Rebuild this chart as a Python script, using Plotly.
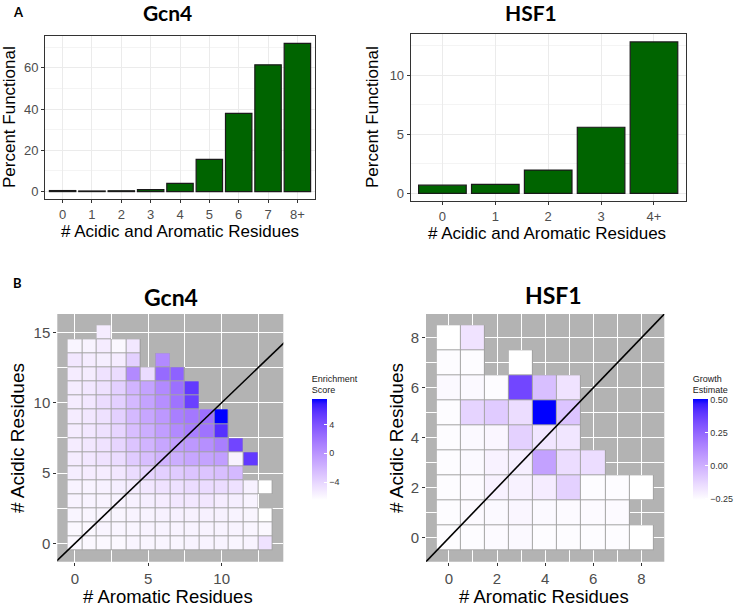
import plotly.graph_objects as go

# ---------------- data ----------------
gcn4_bar_cats = ["0", "1", "2", "3", "4", "5", "6", "7", "8+"]
gcn4_bar_pct = [0.5, 0.3, 0.4, 1.0, 4.0, 15.6, 38.0, 61.5, 71.9]

hsf1_bar_cats = ["0", "1", "2", "3", "4+"]
hsf1_bar_pct = [0.70, 0.76, 1.97, 5.59, 12.8]

# Gcn4 enrichment score: rows = # acidic (0..15), columns = # aromatic (0..13)
gcn4_aromatic = list(range(14))
gcn4_acidic = list(range(16))
N = None
gcn4_score = [
    [-6.1, -6.1, -6.1, -6.1, -5.9, -5.9, -5.9, -5.9, -5.8, -5.8, -5.8, -5.9, -5.8, -4.8],
    [-6.1, -6.1, -5.9, -5.9, -5.9, -5.8, -5.8, -5.8, -5.8, -5.8, -5.8, -5.8, -5.9, -6.1],
    [-5.9, -5.9, -5.9, -5.9, -5.8, -5.8, -5.7, -5.7, -5.7, -5.7, -5.7, -5.8, -5.9, -6.5],
    [-5.8, -5.8, -5.8, -5.8, -5.7, -5.5, -5.4, -5.1, -5.1, -5.1, -5.4, -5.5, -5.8, N],
    [-5.8, -5.8, -5.7, -5.5, -5.4, -5.1, -4.8, -4.7, -4.4, -4.4, -4.4, -4.7, -5.7, -6.5],
    [-5.5, -5.4, -5.4, -5.1, -4.4, -4.0, -3.7, -3.4, -3.0, -3.0, -2.6, -2.3, N, N],
    [-5.4, -5.1, -4.8, -4.4, -3.4, -2.6, -2.0, -1.6, -1.1, -0.9, -0.6, -5.8, 5.5, N],
    [-5.4, -5.1, -4.8, -4.0, -3.0, -2.0, -1.1, -0.6, -0.2, 0.3, 1.3, 4.8, N, N],
    [-5.4, -5.1, -4.7, -4.0, -2.6, -1.6, -0.6, 0.6, 1.3, 2.0, 5.9, N, N, N],
    [-5.4, -5.1, -4.7, -3.7, -2.3, -1.1, -0.2, 1.3, 1.7, 2.2, 7.6, N, N, N],
    [-5.4, -5.1, -4.4, -3.7, -2.3, -0.9, 0.3, 2.0, 5.1, N, N, N, N, N],
    [-5.4, -5.1, -4.7, -3.7, -2.0, -0.9, 0.6, 2.2, 5.5, N, N, N, N, N],
    [-5.4, -5.4, -4.8, -4.4, 0.6, -4.4, 2.6, 3.1, N, N, N, N, N, N],
    [-5.1, -5.4, -5.5, -5.4, -3.7, N, 0.6, N, N, N, N, N, N, N],
    [-5.9, -5.8, -5.4, -6.1, -5.1, N, N, N, N, N, N, N, N, N],
    [N, N, -5.4, N, N, N, N, N, N, N, N, N, N, N],
]

# HSF1 growth estimate: rows = # acidic (0..8), columns = # aromatic (0..8)
hsf1_aromatic = list(range(9))
hsf1_acidic = list(range(9))
hsf1_growth = [
    [-0.25, -0.25, -0.245, -0.24, -0.25, -0.25, -0.25, -0.25, -0.26],
    [-0.25, -0.245, -0.24, -0.23, -0.24, -0.245, -0.245, -0.245, N],
    [-0.25, -0.245, -0.22, -0.22, -0.20, -0.11, -0.25, -0.25, -0.26],
    [-0.25, -0.24, -0.22, -0.21, 0.05, -0.15, -0.15, N, N],
    [-0.25, -0.24, -0.23, -0.11, -0.18, -0.18, N, N, N],
    [-0.25, -0.12, -0.09, -0.15, 0.505, -0.07, N, N, N],
    [-0.24, -0.24, -0.25, 0.35, -0.05, -0.17, N, N, N],
    [-0.25, -0.25, N, -0.26, N, N, N, N, N],
    [-0.26, -0.17, N, N, N, N, N, N, N],
]

# ---------------- helpers ----------------
W, H = 736, 606


def px(x):
    return x / W


def py(y):
    return 1 - y / H


def _lin(c):
    c = c / 255.0
    return c / 12.92 if c <= 0.04045 else ((c + 0.055) / 1.055) ** 2.4


def _gam(c):
    c = 12.92 * c if c <= 0.0031308 else 1.055 * c ** (1 / 2.4) - 0.055
    return max(0, min(255, round(c * 255)))


def rgb2lab(rgb):
    r, g, b = [_lin(v) for v in rgb]
    X = (0.4124 * r + 0.3576 * g + 0.1805 * b) / 0.95047
    Y = (0.2126 * r + 0.7152 * g + 0.0722 * b)
    Z = (0.0193 * r + 0.1192 * g + 0.9505 * b) / 1.08883
    f = lambda t: t ** (1 / 3) if t > 0.008856 else 7.787 * t + 16 / 116
    fx, fy, fz = f(X), f(Y), f(Z)
    return (116 * fy - 16, 500 * (fx - fy), 200 * (fy - fz))


def lab2rgb(lab):
    L, a, b = lab
    fy = (L + 16) / 116
    fx = fy + a / 500
    fz = fy - b / 200
    finv = lambda t: t ** 3 if t ** 3 > 0.008856 else (t - 16 / 116) / 7.787
    X, Y, Z = finv(fx) * 0.95047, finv(fy), finv(fz) * 1.08883
    r = 3.2406 * X - 1.5372 * Y - 0.4986 * Z
    g = -0.9689 * X + 1.8758 * Y + 0.0415 * Z
    bb = 0.0557 * X - 0.2040 * Y + 1.0570 * Z
    return "rgb(%d,%d,%d)" % (_gam(r), _gam(g), _gam(bb))


lo_lab = rgb2lab((255, 255, 255))
hi_lab = rgb2lab((0, 0, 255))
white_blue = []
for i in range(21):
    t = i / 20
    lab = tuple(lo_lab[k] + (hi_lab[k] - lo_lab[k]) * t for k in range(3))
    white_blue.append([t, lab2rgb(lab)])

TICKGRAY = "#4D4D4D"
FONT = "Liberation Sans, Arial, sans-serif"
TITLEFONT = "Lato, Open Sans, sans-serif"
TILE_BORDER = "#A3A3A3"

fig = go.Figure()

# ---------------- bar charts ----------------
fig.add_trace(go.Bar(x=gcn4_bar_cats, y=gcn4_bar_pct, width=0.9,
                     marker=dict(color="#006400", line=dict(color="#1a1a1a", width=1.2)),
                     xaxis="x", yaxis="y", showlegend=False))
fig.add_trace(go.Bar(x=hsf1_bar_cats, y=hsf1_bar_pct, width=0.9,
                     marker=dict(color="#006400", line=dict(color="#1a1a1a", width=1.2)),
                     xaxis="x2", yaxis="y2", showlegend=False))


# ---------------- heatmaps ----------------
def mask(z):
    return [[None if v is None else 0 for v in row] for row in z]


# tile border layer (covers grid lines under the tiles)
fig.add_trace(go.Heatmap(z=mask(gcn4_score), x=gcn4_aromatic, y=gcn4_acidic,
                         xaxis="x3", yaxis="y3", colorscale=[[0, TILE_BORDER], [1, TILE_BORDER]],
                         showscale=False, hoverinfo="skip", connectgaps=False))
fig.add_trace(go.Heatmap(z=mask(hsf1_growth), x=hsf1_aromatic, y=hsf1_acidic,
                         xaxis="x4", yaxis="y4", colorscale=[[0, TILE_BORDER], [1, TILE_BORDER]],
                         showscale=False, hoverinfo="skip", connectgaps=False))

CB_TOP, CB_BOTTOM = 372, 500

fig.add_trace(go.Heatmap(
    z=gcn4_score, x=gcn4_aromatic, y=gcn4_acidic, xaxis="x3", yaxis="y3",
    colorscale=white_blue, xgap=1, ygap=1, connectgaps=False, hoverongaps=False,
    colorbar=dict(x=px(311.7), xanchor="left", y=py(CB_TOP), yanchor="top",
                  len=CB_BOTTOM - CB_TOP, lenmode="pixels", thickness=15, thicknessmode="pixels",
                  outlinewidth=0, ticks="inside", ticklen=3, tickcolor="white",
                  tickvals=[-4, 0, 4], tickfont=dict(size=9, color="#333333", family=FONT),
                  title=dict(text="Enrichment<br>Score", side="top",
                             font=dict(size=9, color="#1a1a1a", family=FONT)),
                  ypad=0, xpad=0)))

fig.add_trace(go.Heatmap(
    z=hsf1_growth, x=hsf1_aromatic, y=hsf1_acidic, xaxis="x4", yaxis="y4",
    colorscale=white_blue, xgap=1, ygap=1, connectgaps=False, hoverongaps=False,
    colorbar=dict(x=px(692.7), xanchor="left", y=py(CB_TOP), yanchor="top",
                  len=CB_BOTTOM - CB_TOP, lenmode="pixels", thickness=15, thicknessmode="pixels",
                  outlinewidth=0, ticks="inside", ticklen=3, tickcolor="white",
                  tickvals=[-0.25, 0, 0.25, 0.5], tickformat=".2f",
                  tickfont=dict(size=9, color="#333333", family=FONT),
                  title=dict(text="Growth<br>Estimate", side="top",
                             font=dict(size=9, color="#1a1a1a", family=FONT)),
                  ypad=0, xpad=0)))

# y = x reference lines (clipped by the axes)
g_lo = min(gcn4_aromatic + gcn4_acidic) - 5
g_hi = max(gcn4_aromatic + gcn4_acidic) + 5
fig.add_trace(go.Scatter(x=[g_lo, g_hi], y=[g_lo, g_hi], mode="lines",
                         line=dict(color="black", width=1.6), xaxis="x3", yaxis="y3",
                         showlegend=False, hoverinfo="skip"))
h_lo = min(hsf1_aromatic + hsf1_acidic) - 5
h_hi = max(hsf1_aromatic + hsf1_acidic) + 5
fig.add_trace(go.Scatter(x=[h_lo, h_hi], y=[h_lo, h_hi], mode="lines",
                         line=dict(color="black", width=1.6), xaxis="x4", yaxis="y4",
                         showlegend=False, hoverinfo="skip"))

# ---------------- axes ----------------
bar_common = dict(showline=True, mirror=True, linecolor="#333333", linewidth=1,
                  ticks="outside", ticklen=3, tickcolor="#333333", tickwidth=1,
                  tickfont=dict(size=13, color=TICKGRAY, family=FONT),
                  showgrid=True, gridcolor="#EBEBEB", gridwidth=1, zeroline=False,
                  automargin=False, fixedrange=True)

gmax = max(gcn4_bar_pct)
hmax = max(hsf1_bar_pct)

heat_common = dict(showline=False, ticks="outside", ticklen=3, tickcolor="#333333",
                   tickwidth=1, tickfont=dict(size=15, color=TICKGRAY, family=FONT),
                   showgrid=True, gridcolor="white", gridwidth=1.3, zeroline=False,
                   automargin=False, fixedrange=True)

fig.update_layout(
    xaxis=dict(domain=[px(45), px(315)], anchor="y", type="category",
               range=[-0.6, len(gcn4_bar_cats) - 0.4], **bar_common),
    yaxis=dict(domain=[py(199), py(36)], anchor="x", range=[-0.05 * gmax, 1.05 * gmax],
               tick0=0, dtick=20,
               minor=dict(dtick=10, showgrid=True, gridcolor="#F4F4F4", gridwidth=0.6),
               **bar_common),
    xaxis2=dict(domain=[px(410.7), px(685.7)], anchor="y2", type="category",
                range=[-0.6, len(hsf1_bar_cats) - 0.4], **bar_common),
    yaxis2=dict(domain=[py(201), py(34.3)], anchor="x2", range=[-0.05 * hmax, 1.05 * hmax],
                tick0=0, dtick=5,
                minor=dict(dtick=2.5, showgrid=True, gridcolor="#F4F4F4", gridwidth=0.6),
                **bar_common),
    xaxis3=dict(domain=[px(57.3), px(283.3)], anchor="y3", range=[-1.2, 14.2],
                tick0=0, dtick=5,
                minor=dict(dtick=2.5, showgrid=True, gridcolor="white", gridwidth=0.6),
                **heat_common),
    yaxis3=dict(domain=[py(561.7), py(314)], anchor="x3", range=[-1.3, 16.3],
                tick0=0, dtick=5,
                minor=dict(dtick=2.5, showgrid=True, gridcolor="white", gridwidth=0.6),
                **heat_common),
    xaxis4=dict(domain=[px(426), px(664.3)], anchor="y4", range=[-0.95, 8.95],
                tick0=0, dtick=2,
                minor=dict(dtick=1, showgrid=True, gridcolor="white", gridwidth=0.6),
                **heat_common),
    yaxis4=dict(domain=[py(561.7), py(314)], anchor="x4", range=[-0.95, 8.95],
                tick0=0, dtick=2,
                minor=dict(dtick=1, showgrid=True, gridcolor="white", gridwidth=0.6),
                **heat_common),
)

# gray panel backgrounds for heatmaps (below grid lines)
for xa, ya in (("x3", "y3"), ("x4", "y4")):
    fig.add_shape(type="rect", xref=xa + " domain", yref=ya + " domain",
                  x0=0, x1=1, y0=0, y1=1, layer="below",
                  fillcolor="#B3B3B3", line=dict(width=0))


# ---------------- text ----------------
def ann(text, x, y, size, color="black", family=FONT, angle=0, bold=False):
    fig.add_annotation(text=("<b>%s</b>" % text) if bold else text,
                       x=px(x), y=py(y), xref="paper", yref="paper",
                       xanchor="center", yanchor="middle", showarrow=False, textangle=angle,
                       font=dict(size=size, color=color, family=family))


ann("A", 18, 12, 13, family=TITLEFONT, bold=True)
ann("B", 17, 283, 13, family=TITLEFONT, bold=True)
ann("Gcn4", 167, 12, 21, family=TITLEFONT, bold=True)
ann("HSF1", 531, 12, 21, family=TITLEFONT, bold=True)
ann("Gcn4", 171, 297, 23, family=TITLEFONT, bold=True)
ann("HSF1", 553, 295, 23, family=TITLEFONT, bold=True)

ann("# Acidic and Aromatic Residues", 180, 232, 17)
ann("# Acidic and Aromatic Residues", 547, 233, 17)
ann("Percent Functional", 10, 117, 17, angle=-90)
ann("Percent Functional", 373, 117, 17, angle=-90)

ann("# Aromatic Residues", 168, 596, 18.5)
ann("# Aromatic Residues", 544, 596, 18.5)
ann("# Acidic Residues", 17, 438, 19, angle=-90)
ann("# Acidic Residues", 396, 438, 19, angle=-90)

fig.update_layout(width=W, height=H, margin=dict(l=0, r=0, t=0, b=0),
                  paper_bgcolor="white", plot_bgcolor="white", template="none",
                  showlegend=False, bargap=0.1)

# the page's default 8px body margin would shift the 736x606 figure; remove it
fig.write_html("out.html", config={"displayModeBar": False},
               post_script="document.body.style.margin='0px';")
